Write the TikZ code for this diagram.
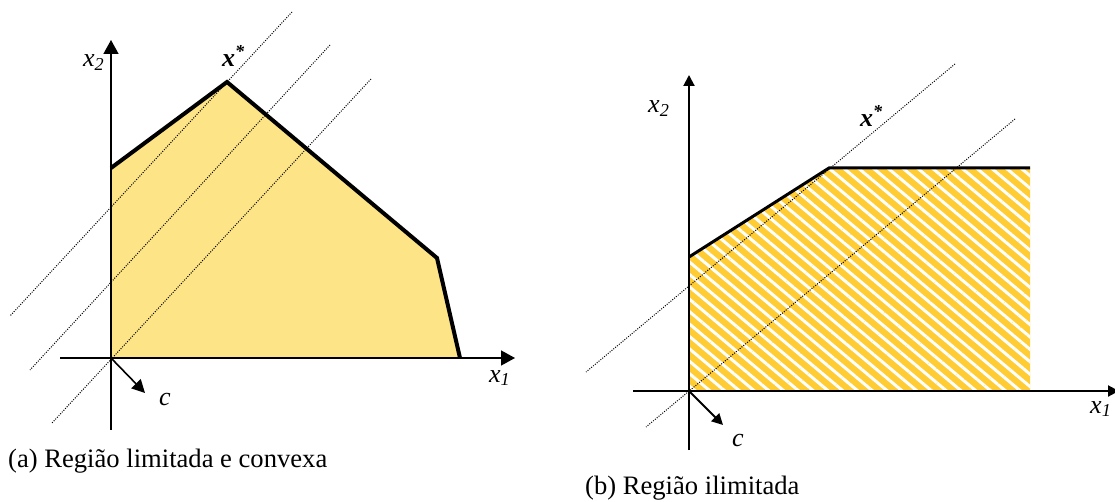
\documentclass[tikz,border=0pt]{standalone}
\usepackage{fontspec}
\setmainfont{Liberation Serif}
\usetikzlibrary{arrows.meta,patterns.meta}
\definecolor{hatchyellow}{RGB}{255,204,51}
\definecolor{lightyellow}{RGB}{253,228,135}
\begin{document}
\begin{tikzpicture}[x=1pt,y=-1pt,
  lbl/.style={inner sep=0pt, anchor=base west, font=\fontsize{26}{30}\selectfont\itshape},
  captext/.style={inner sep=0pt, anchor=base west, font=\fontsize{26.6}{30}\selectfont},
  axisA/.style={line width=1.6pt, -{Triangle[length=14pt,width=15pt]}},
  axisB/.style={line width=2pt, -{Triangle[length=11pt,width=11pt]}},
  cvecA/.style={line width=1.6pt, -{Triangle[length=13pt,width=13pt]}},
  cvecB/.style={line width=2pt, -{Triangle[length=11pt,width=11pt]}},
  borderA/.style={line width=4pt, line join=miter},
  borderB/.style={line width=3pt, line join=miter},
  levelline/.style={line width=1pt, black, dash pattern=on 1pt off 1.4pt}
]
\useasboundingbox (0,0) rectangle (1115,502);

% ---------- (a) ----------
\coordinate (A0) at (111,358);
\coordinate (A1) at (111,168);
\coordinate (A2) at (227,82);
\coordinate (A3) at (437,258);
\coordinate (A4) at (460,358);
\fill[lightyellow] (A0) -- (A1) -- (A2) -- (A3) -- (A4) -- cycle;

\coordinate (L1a) at (292,12);  \coordinate (L1b) at (10,316);
\coordinate (L2a) at (330,45);  \coordinate (L2b) at (30,370);
\coordinate (L3a) at (371,79);  \coordinate (L3b) at (52,423);
\draw[levelline] (L1a) -- (L1b);
\draw[levelline] (L2a) -- (L2b);
\draw[levelline] (L3a) -- (L3b);

\coordinate (AyB) at (111,430); \coordinate (AyT) at (111,40);
\coordinate (AxL) at (60,358);  \coordinate (AxR) at (515,358);
\coordinate (Ac) at (145,393);
\draw[axisA] (AyB) -- (AyT);
\draw[axisA] (AxL) -- (AxR);
\draw[cvecA] (A0) -- (Ac);
\draw[borderA] (A1) -- (A2) -- (A3) -- (A4);

\node[lbl] (ax2) at (83,67) {x\textsubscript{2}};
\node[lbl] (axs) at (222,67) {\bfseries x\textsuperscript{*}};
\node[lbl] (ax1) at (489,382) {x\textsubscript{1}};
\node[lbl] (acl) at (159,405) {c};
\node[captext] (capa) at (8,467) {(a) Região limitada e convexa};

% ---------- (b) ----------
\coordinate (B0) at (689,391);
\coordinate (B1) at (689,257);
\coordinate (B2) at (829,168);
\coordinate (B3) at (1030,168);
\coordinate (B4) at (1030,391);
\fill[hatchyellow] (B0) -- (B1) -- (B2) -- (B3) -- (B4) -- cycle;
\fill[pattern={Lines[angle=-40,distance=9.5pt,line width=3pt]}, pattern color=white]
  (B0) -- (B1) -- (B2) -- (B3) -- (B4) -- cycle;

\coordinate (R1a) at (955,64);   \coordinate (R1b) at (586,372);
\coordinate (R2a) at (1015,119); \coordinate (R2b) at (646,427);
\draw[levelline] (R1a) -- (R1b);
\draw[levelline] (R2a) -- (R2b);

\coordinate (ByB) at (689,450); \coordinate (ByT) at (689,75);
\coordinate (BxL) at (633,391); \coordinate (BxR) at (1119,391);
\coordinate (Bc) at (723,425);
\draw[axisB] (ByB) -- (ByT);
\draw[axisB] (BxL) -- (BxR);
\draw[cvecB] (B0) -- (Bc);
\draw[borderB] (B1) -- (B2) -- (B3);

\node[lbl] (bx2) at (648,113) {x\textsubscript{2}};
\node[lbl] (bxs) at (860,127) {\bfseries x\textsuperscript{*}};
\node[lbl] (bx1) at (1090,413) {x\textsubscript{1}};
\node[lbl] (bcl) at (732,446) {c};
\node[captext] (capb) at (585,494) {(b) Região ilimitada};
\end{tikzpicture}
\end{document}
